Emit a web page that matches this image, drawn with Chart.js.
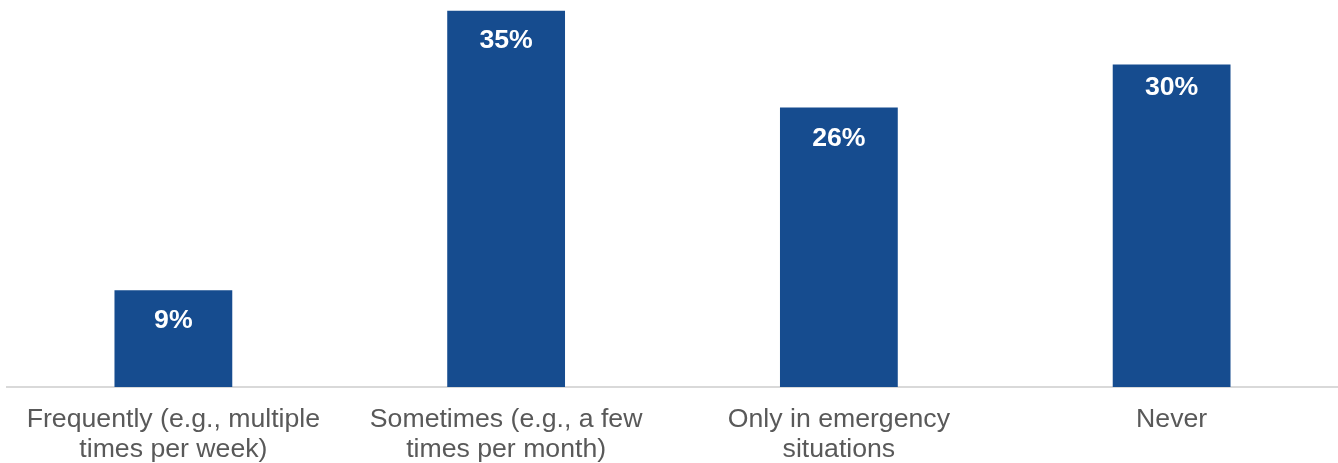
<!DOCTYPE html>
<html lang="en">
<head>
  <meta charset="UTF-8">
  <title>Frequency chart</title>
  <script src="https://cdn.jsdelivr.net/npm/chart.js"></script>
  <style>
    body {
      margin: 0;
      padding: 0;
      background: #ffffff;
    }
    .wrap {
      width: 1338px;
      height: 463px;
      position: relative;
    }
  </style>
</head>
<body>
  <div class="wrap">
    <canvas id="chart"></canvas>
  </div>

  <script>
    // Categories (split on two lines like the original) and values in %
    const categories = [
      ['Frequently (e.g., multiple', 'times per week)'],
      ['Sometimes (e.g., a few', 'times per month)'],
      ['Only in emergency', 'situations'],
      ['Never']
    ];
    const values = [9, 35, 26, 30];
    const valueLabels = ['9%', '35%', '26%', '30%'];

    const FONT = '"Liberation Sans", Arial, sans-serif';

    // Draws the white labels inside the top of each bar
    const barLabels = {
      id: 'barLabels',
      afterDatasetsDraw(chart, args, opts) {
        const ctx = chart.ctx;
        const meta = chart.getDatasetMeta(0);
        ctx.save();
        ctx.fillStyle = '#ffffff';
        ctx.font = 'bold 26.67px ' + FONT;
        ctx.textAlign = 'center';
        ctx.textBaseline = 'middle';
        meta.data.forEach((bar, i) => {
          const dy = opts.offsets ? opts.offsets[i] : 30;
          ctx.fillText(valueLabels[i], bar.x, bar.y + dy);
        });
        ctx.restore();
      }
    };

    new Chart(document.getElementById('chart'), {
      type: 'bar',
      data: {
        labels: categories,
        datasets: [{
          data: values,
          backgroundColor: '#164c8f',
          borderWidth: 0,
          barPercentage: 0.354,
          categoryPercentage: 1
        }]
      },
      options: {
        responsive: true,
        maintainAspectRatio: false,
        animation: false,
        layout: { padding: { left: 7, right: 0, top: 0, bottom: 0 } },
        plugins: {
          legend: { display: false },
          tooltip: { enabled: false },
          // label placement below each bar top, as in the source image
          barLabels: { offsets: [30.5, 29.5, 31, 23] }
        },
        scales: {
          x: {
            grid: { display: false, drawTicks: false },
            border: { display: true, color: '#d9d9d9', width: 2 },
            ticks: {
              color: '#595959',
              font: { family: FONT, size: 26.67, lineHeight: 1.15 },
              padding: 17,
              maxRotation: 0,
              autoSkip: false
            },
            afterFit(scale) { scale.height = 76; }
          },
          y: {
            display: false,
            min: 0,
            max: 36
          }
        }
      },
      plugins: [barLabels]
    });
  </script>
</body>
</html>
